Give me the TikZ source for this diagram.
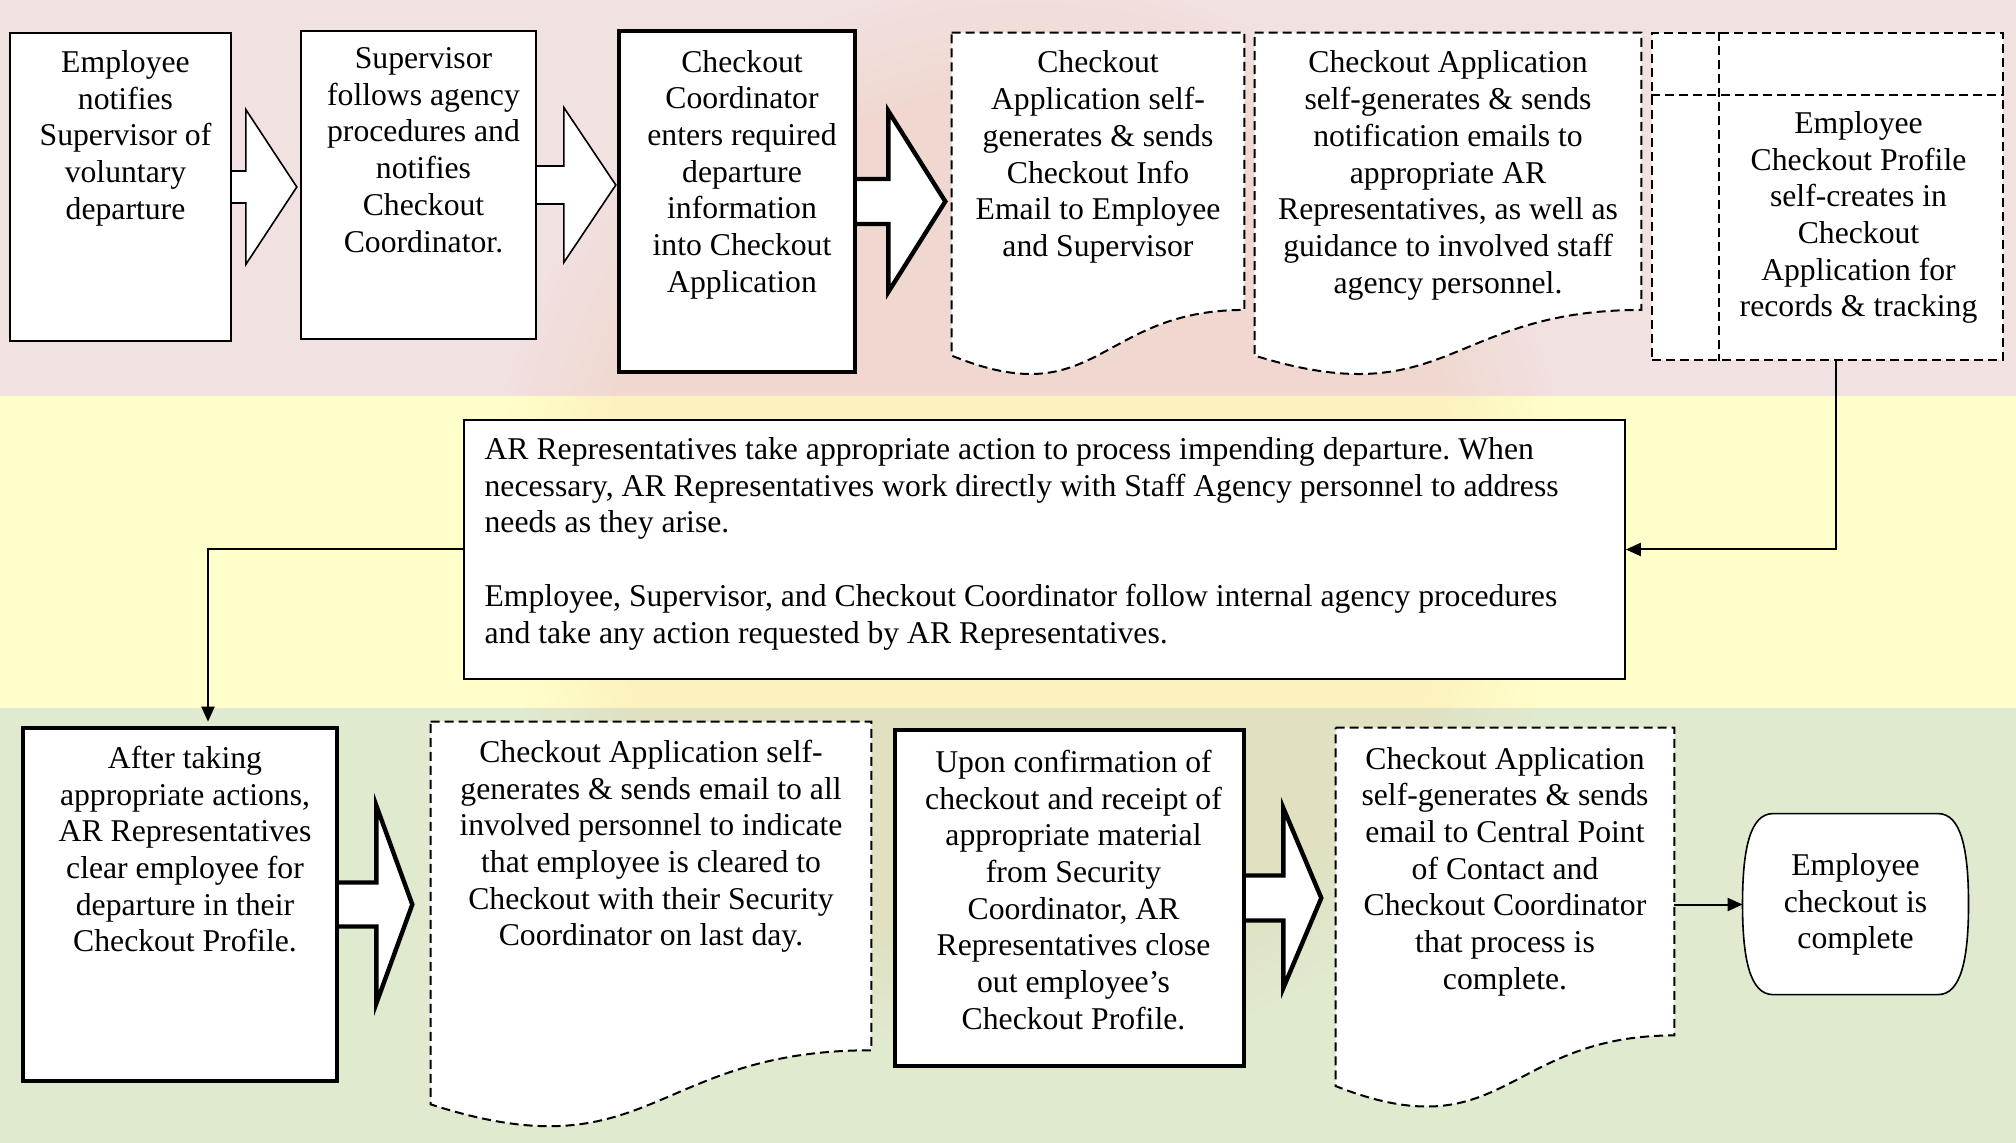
\documentclass[tikz,border=0pt]{standalone}
\usepackage{fontspec}
\setmainfont{Liberation Serif}
\usetikzlibrary{positioning,calc,arrows.meta,backgrounds,fadings}
\frenchspacing

\definecolor{bandpink}{HTML}{F2E1E1}
\definecolor{bandyellow}{HTML}{FFFFCC}
\definecolor{bandgreen}{HTML}{E0EACF}
\definecolor{sealorange}{HTML}{E8A060}

\begin{document}
\begin{tikzpicture}
[
    x=0.5pt, y=-0.5pt,
    every node/.style={font=\fontsize{15.85}{18.35}\selectfont},
    box/.style={draw, fill=white, line width=0.8pt, inner sep=0pt},
    thickbox/.style={box, line width=2.3pt},
    dashline/.style={draw, fill=white, line width=1pt, dash pattern=on 4.5pt off 2.5pt},
    storebox/.style={dashline, inner sep=0pt},
    docbox/.style={inner sep=0pt},
    txt/.style={align=center, inner sep=0pt},
    conn/.style={line width=1pt, -{Triangle[length=7.5pt,width=6.5pt]}}
]
    \useasboundingbox (0,0) rectangle (2016,1143);

    % swim lanes
    \begin{scope}[on background layer]
        \fill[bandpink] (0,0) rectangle (2016,396);
        \fill[bandyellow] (0,396) rectangle (2016,708);
        \fill[bandgreen] (0,708) rectangle (2016,1143);
        \fill[sealorange, fill opacity=0.13, path fading=circle with fuzzy edge 20 percent] (1030,520) circle (270pt);
    \end{scope}

    % shapes
    \node [box, minimum width=110.5pt, minimum height=154pt] (b1) at (120.5,187) {};
    \node [box, minimum width=117.5pt, minimum height=154pt] (b2) at (418.5,185) {};
    \node [thickbox, minimum width=118pt, minimum height=170.5pt] (b3) at (737,201.5) {};
    \node [docbox, minimum width=146pt, minimum height=172.5pt] (d1) at (1098,205.5) {};
    \node [docbox, minimum width=193pt, minimum height=172.5pt] (d2) at (1448,205.5) {};
    \node [storebox, minimum width=175.5pt, minimum height=163.5pt] (is) at (1827.5,196.5) {};
    \node [box, minimum width=580.5pt, minimum height=129.5pt] (ar) at (1044.5,549.5) {};
    \node [thickbox, minimum width=157pt, minimum height=176.5pt] (bA) at (180,904.5) {};
    \node [docbox, minimum width=220pt, minimum height=204.5pt] (dB) at (651,926.5) {};
    \node [thickbox, minimum width=174.5pt, minimum height=168pt] (bC) at (1069.5,898) {};
    \node [docbox, minimum width=169pt, minimum height=191.5pt] (dD) at (1505,919.5) {};
    \node [docbox, minimum width=112.5pt, minimum height=90.5pt] (term) at (1855.5,904.5) {};

    % block arrows, behind the boxes
    \begin{scope}[on background layer]
        \foreach \src/\sh/\sl/\hh/\hl/\lw in {b1/16/14/77.5/51/0.8, b2/19/27/77.5/52/0.8, b3/22.5/31/90.5/57/2.2, bA/22/37/99/36/2.2, bC/22.5/37/90/38/2.2}
            \draw[line width=\lw pt, fill=white] ($(\src.east)+(-20,-\sh)$) -- ++({\sl+20},0) -- ++(0,{\sh-\hh})
                -- ++(\hl,\hh) -- ++(-\hl,\hh) -- ++(0,{\sh-\hh}) -- ++({-\sl-20},0) -- cycle;
    \end{scope}

    % document outlines
    \foreach \d in {d1,d2,dB,dD}
        \draw[dashline] (\d.north west) -- (\d.north east) -- ($(\d.north east)!0.802!(\d.south east)$)
            .. controls ($(\d.north)!0.802!(\d.south)$) and ($(\d.north)!1.1075!(\d.south)$) .. ($(\d.north west)!0.934!(\d.south west)$) -- cycle;

    % internal storage lines
    \draw[dashline] ($(is.north west)+(68,0)$) -- ($(is.south west)+(68,0)$);
    \draw[dashline] ($(is.north west)+(0,63)$) -- ($(is.north east)+(0,63)$);

    % terminator
    \draw[box] ($(term.north)+(-82.5,0)$) -- ++(165,0)
        .. controls +(23,0) and +(0,-55) .. ++(30.5,90.5)
        .. controls +(0,55) and +(23,0) .. ++(-30.5,90.5) -- ++(-165,0)
        .. controls +(-23,0) and +(0,55) .. ++(-30.5,-90.5)
        .. controls +(0,-55) and +(-23,0) .. ++(30.5,-90.5) -- cycle;

    % texts
    \node [txt, below=9pt of b1.north, xshift=2.5pt] (b1t) {Employee\\notifies\\Supervisor of\\voluntary\\departure};
    \node [txt, below=8.5pt of b2.north, xshift=2.5pt] (b2t) {Supervisor\\follows agency\\procedures and\\notifies\\Checkout\\Coordinator.};
    \node [txt, below=10.5pt of b3.north, xshift=2.5pt] (b3t) {Checkout\\Coordinator\\enters required\\departure\\information\\into Checkout\\Application};
    \node [txt, below=9pt of d1.north] (d1t) {Checkout\\Application self-\\generates \& sends\\Checkout Info\\Email to Employee\\and Supervisor};
    \node [txt, below=9pt of d2.north] (d2t) {Checkout Application\\self-generates \& sends\\notification emails to\\appropriate AR\\Representatives, as well as\\guidance to involved staff\\agency personnel.};
    \node [txt, below=39.5pt of is.north, xshift=15.5pt] (ist) {Employee\\Checkout Profile\\self-creates in\\Checkout\\Application for\\records \& tracking};
    \node [txt, align=left, below right=9pt and 10.5pt of ar.north west] (art) {AR Representatives take appropriate action to process impending departure. When\\necessary, AR Representatives work directly with Staff Agency personnel to address\\needs as they arise.\\[18.35pt]Employee, Supervisor, and Checkout Coordinator follow internal agency procedures\\and take any action requested by AR Representatives.};
    \node [txt, below=10pt of bA.north, xshift=2.5pt] (bAt) {After taking\\appropriate actions,\\AR Representatives\\clear employee for\\departure in their\\Checkout Profile.};
    \node [txt, below=9pt of dB.north] (dBt) {Checkout Application self-\\generates \& sends email to all\\involved personnel to indicate\\that employee is cleared to\\Checkout with their Security\\Coordinator on last day.};
    \node [txt, below=11pt of bC.north, xshift=2pt] (bCt) {Upon confirmation of\\checkout and receipt of\\appropriate material\\from Security\\Coordinator, AR\\Representatives close\\out employee’s\\Checkout Profile.};
    \node [txt, below=9.5pt of dD.north] (dDt) {Checkout Application\\self-generates \& sends\\email to Central Point\\of Contact and\\Checkout Coordinator\\that process is\\complete.};
    \node [txt] (termt) at (term) {Employee\\checkout is\\complete};

    % connectors
    \draw[conn] ([xshift=4pt]is.south) |- (ar.east);
    \draw[conn, shorten >=2pt] (ar.west) -| ([xshift=14pt]bA.north);
    \draw[conn] (term.west -| dD.east) -- (term.west);
\end{tikzpicture}
\end{document}
